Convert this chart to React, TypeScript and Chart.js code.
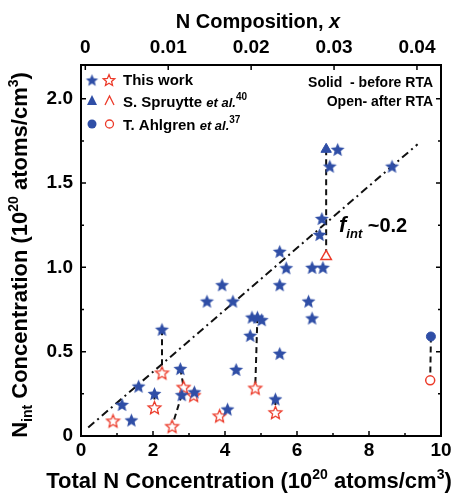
import React, { useEffect, useRef } from "react";
import { Chart, registerables } from "chart.js";
Chart.register(...registerables);

const FONT = '"Liberation Sans", Arial, Helvetica, sans-serif';
const BLUE = "#2f4ea6";
const RED = "#ec3b2a";

// This work, before RTA (solid stars)
const beforeX = [1.14, 1.4, 1.6, 2.04, 2.25, 2.76, 2.8, 3.15, 3.5, 3.92, 4.07, 4.22, 4.31, 4.7, 4.75, 4.9, 5.02, 5.4, 5.52, 5.52, 5.52, 5.7, 6.32, 6.42, 6.42, 6.63, 6.69, 6.72, 6.91, 7.13, 8.64];
const beforeY = [0.187, 0.095, 0.296, 0.252, 0.633, 0.4, 0.245, 0.262, 0.8, 0.897, 0.16, 0.8, 0.395, 0.597, 0.705, 0.705, 0.69, 0.22, 0.49, 0.897, 1.095, 0.998, 0.8, 0.7, 1.0, 1.195, 1.29, 1.0, 1.6, 1.7, 1.6];
// This work, after RTA (open stars)
const afterX = [0.89, 2.04, 2.25, 2.53, 2.85, 3.13, 3.85, 4.84, 5.4];
const afterY = [0.09, 0.169, 0.375, 0.058, 0.29, 0.242, 0.12, 0.285, 0.14];
// S. Spruytte et al.
const spruytteBeforeX = [6.81];
const spruytteBeforeY = [1.7];
const spruytteAfterX = [6.81];
const spruytteAfterY = [1.065];
// T. Ahlgren et al.
const ahlgrenBeforeX = [9.72];
const ahlgrenBeforeY = [0.59];
const ahlgrenAfterX = [9.7];
const ahlgrenAfterY = [0.33];
// dashed connectors: before -> after
const connFromX = [6.81, 9.72, 2.25, 2.76, 2.8, 2.04, 4.9, 5.4];
const connFromY = [1.7, 0.59, 0.633, 0.4, 0.245, 0.252, 0.705, 0.22];
const connToX = [6.81, 9.7, 2.25, 2.85, 2.53, 2.04, 4.84, 5.4];
const connToY = [1.065, 0.33, 0.375, 0.29, 0.058, 0.169, 0.285, 0.14];
// fit line f_int ~ 0.2
const fitX = [0.2, 9.35];
const fitY = [0.05, 1.73];
// ticks
const xTicks = [0, 2, 4, 6, 8, 10];
const xTickLabels = ["0", "2", "4", "6", "8", "10"];
const yTicks = [0, 0.5, 1, 1.5, 2];
const yTickLabels = ["0", "0.5", "1.0", "1.5", "2.0"];
const compTicks = [0, 0.01, 0.02, 0.03, 0.04];
const compTickLabels = ["0", "0.01", "0.02", "0.03", "0.04"];
const yMinorTicks = [0.25, 0.75, 1.25, 1.75];
const xMinorTicks = [1, 3, 5, 7, 9];

function makeStar(fill: string | null, stroke: string | null, R: number, lw: number) {
  const c = document.createElement("canvas");
  const size = Math.ceil(R * 2 + lw + 2);
  c.width = size;
  c.height = size;
  const g = c.getContext("2d")!;
  const cx = size / 2;
  const cy = size / 2 + R * 0.1;
  g.beginPath();
  for (let i = 0; i < 10; i++) {
    const r = i % 2 === 0 ? R : R * 0.45;
    const a = -Math.PI / 2 + (i * Math.PI) / 5;
    g.lineTo(cx + r * Math.cos(a), cy + r * Math.sin(a));
  }
  g.closePath();
  if (fill) {
    g.fillStyle = fill;
    g.fill();
  }
  if (stroke) {
    g.strokeStyle = stroke;
    g.lineWidth = lw;
    g.stroke();
  }
  return c;
}

type Run = { t: string; font: string; dy?: number };
function drawRuns(ctx: CanvasRenderingContext2D, runs: Run[], x: number, y: number, align: "left" | "center" | "right") {
  ctx.save();
  ctx.textBaseline = "alphabetic";
  ctx.textAlign = "left";
  let total = 0;
  for (const r of runs) {
    ctx.font = r.font;
    total += ctx.measureText(r.t).width;
  }
  let cx = align === "left" ? x : align === "center" ? x - total / 2 : x - total;
  for (const r of runs) {
    ctx.font = r.font;
    ctx.fillText(r.t, cx, y + (r.dy || 0));
    cx += ctx.measureText(r.t).width;
  }
  ctx.restore();
}

const pairs = (xs: number[], ys: number[]) => xs.map((x, i) => ({ x, y: ys[i] }));

export default function App() {
  const ref = useRef<HTMLCanvasElement>(null);
  useEffect(() => {
    const filledStar = makeStar(BLUE, null, 7.3, 0);
    const openStar = makeStar("#ffffff", RED, 6.7, 1.3);
    const legendFilledStar = makeStar(BLUE, null, 6.5, 0);
    const legendOpenStar = makeStar("#ffffff", RED, 6, 1.3);

    const B = (s: number, it = false) => `${it ? "italic " : ""}bold ${s}px ${FONT}`;

    const decor = {
      id: "decor",
      afterDraw(chart: any) {
        const ctx: CanvasRenderingContext2D = chart.ctx;
        const { left, right, top, bottom } = chart.chartArea;
        const sx = chart.scales.x;
        const sy = chart.scales.y;
        const st = chart.scales.xTop;
        ctx.save();
        ctx.strokeStyle = "#000";
        ctx.lineWidth = 1.5;
        ctx.beginPath();
        const yAll = [...yTicks.map((v) => [v, 5]), ...yMinorTicks.map((v) => [v, 3])];
        for (const [v, len] of yAll) {
          const p = sy.getPixelForValue(v);
          ctx.moveTo(left, p);
          ctx.lineTo(left + len, p);
          ctx.moveTo(right, p);
          ctx.lineTo(right - len, p);
        }
        const xAll = [...xTicks.map((v) => [v, 5]), ...xMinorTicks.map((v) => [v, 3])];
        for (const [v, len] of xAll) {
          const p = sx.getPixelForValue(v);
          ctx.moveTo(p, bottom);
          ctx.lineTo(p, bottom - len);
        }
        for (const v of compTicks) {
          const p = st.getPixelForValue(v);
          ctx.moveTo(p, top);
          ctx.lineTo(p, top + 5);
        }
        ctx.stroke();
        ctx.restore();

        ctx.fillStyle = "#000";
        // axis titles
        drawRuns(ctx, [
          { t: "Total N Concentration (10", font: B(22) },
          { t: "20", font: B(14), dy: -9 },
          { t: " atoms/cm", font: B(22) },
          { t: "3", font: B(14), dy: -9 },
          { t: ")", font: B(22) },
        ], 249, 488, "center");
        drawRuns(ctx, [
          { t: "N Composition, ", font: B(20) },
          { t: "x", font: B(20, true) },
        ], 258, 28, "center");
        ctx.save();
        ctx.translate(27, 255);
        ctx.rotate(-Math.PI / 2);
        drawRuns(ctx, [
          { t: "N", font: B(22) },
          { t: "int", font: B(14), dy: 5 },
          { t: " Concentration (10", font: B(22) },
          { t: "20", font: B(14), dy: -9 },
          { t: " atoms/cm", font: B(22) },
          { t: "3", font: B(14), dy: -9 },
          { t: ")", font: B(22) },
        ], 0, 0, "center");
        ctx.restore();

        // f_int annotation
        drawRuns(ctx, [
          { t: "f", font: B(22, true) },
          { t: "int", font: B(13, true), dy: 6 },
          { t: " ~0.2", font: B(20) },
        ], 339, 232, "left");

        // solid/open note
        drawRuns(ctx, [{ t: "Solid  - before RTA", font: B(14) }], 433, 87, "right");
        drawRuns(ctx, [{ t: "Open- after RTA", font: B(14) }], 433, 106, "right");

        // legend
        ctx.drawImage(legendFilledStar, 92 - legendFilledStar.width / 2, 80 - legendFilledStar.height / 2);
        ctx.drawImage(legendOpenStar, 109 - legendOpenStar.width / 2, 80 - legendOpenStar.height / 2);
        drawRuns(ctx, [{ t: "This work", font: B(15) }], 123, 85, "left");

        ctx.save();
        ctx.fillStyle = BLUE;
        ctx.beginPath();
        ctx.moveTo(92, 95);
        ctx.lineTo(97, 105);
        ctx.lineTo(87, 105);
        ctx.closePath();
        ctx.fill();
        ctx.strokeStyle = RED;
        ctx.lineWidth = 1.3;
        ctx.beginPath();
        ctx.moveTo(105, 105);
        ctx.lineTo(109.5, 96);
        ctx.lineTo(114, 105);
        ctx.stroke();
        ctx.fillStyle = BLUE;
        ctx.beginPath();
        ctx.arc(92, 124, 4.5, 0, Math.PI * 2);
        ctx.fill();
        ctx.strokeStyle = RED;
        ctx.beginPath();
        ctx.arc(109.5, 124, 4, 0, Math.PI * 2);
        ctx.stroke();
        ctx.restore();
        ctx.fillStyle = "#000";
        drawRuns(ctx, [
          { t: "S. Spruytte ", font: B(15) },
          { t: "et al.", font: B(13, true) },
          { t: "40", font: B(10), dy: -7 },
        ], 123, 107, "left");
        drawRuns(ctx, [
          { t: "T. Ahlgren ", font: B(15) },
          { t: "et al.", font: B(13, true) },
          { t: "37", font: B(10), dy: -7 },
        ], 123, 130, "left");
      },
    };

    const tickFont = { family: FONT, size: 19, weight: "bold" as const };
    const axisCommon = {
      grid: { display: false, drawTicks: false },
      border: { display: true, color: "#000", width: 2 },
    };

    const connectorSets = connFromX.map((_, i) => ({
      data: [
        { x: connFromX[i], y: connFromY[i] },
        { x: connToX[i], y: connToY[i] },
      ],
      showLine: true,
      borderColor: "#111",
      borderWidth: 2,
      borderDash: [6, 4],
      pointRadius: 0,
      order: 10,
      xAxisID: "x",
      yAxisID: "y",
    }));

    const chart = new Chart(ref.current!, {
      type: "scatter",
      data: {
        datasets: [
          {
            data: pairs(fitX, fitY),
            showLine: true,
            borderColor: "#111",
            borderWidth: 2,
            borderDash: [8, 4, 2, 4],
            pointRadius: 0,
            order: 11,
            xAxisID: "x",
            yAxisID: "y",
          },
          ...connectorSets,
          {
            data: pairs(afterX, afterY),
            pointStyle: openStar,
            order: 2,
            xAxisID: "x",
            yAxisID: "y",
          },
          {
            data: pairs(beforeX, beforeY),
            pointStyle: filledStar,
            order: 1,
            xAxisID: "x",
            yAxisID: "y",
          },
          {
            data: pairs(spruytteBeforeX, spruytteBeforeY),
            pointStyle: "triangle",
            pointRadius: 6,
            backgroundColor: BLUE,
            borderColor: BLUE,
            borderWidth: 1,
            order: 1,
            xAxisID: "x",
            yAxisID: "y",
          },
          {
            data: pairs(spruytteAfterX, spruytteAfterY),
            pointStyle: "triangle",
            pointRadius: 6,
            backgroundColor: "#ffffff",
            borderColor: RED,
            borderWidth: 1.5,
            order: 1,
            xAxisID: "x",
            yAxisID: "y",
          },
          {
            data: pairs(ahlgrenBeforeX, ahlgrenBeforeY),
            pointStyle: "circle",
            pointRadius: 4.5,
            backgroundColor: BLUE,
            borderColor: BLUE,
            borderWidth: 1,
            order: 1,
            xAxisID: "x",
            yAxisID: "y",
          },
          {
            data: pairs(ahlgrenAfterX, ahlgrenAfterY),
            pointStyle: "circle",
            pointRadius: 4.5,
            backgroundColor: "#ffffff",
            borderColor: RED,
            borderWidth: 1.5,
            order: 1,
            xAxisID: "x",
            yAxisID: "y",
          },
        ],
      },
      options: {
        responsive: false,
        animation: false,
        layout: { padding: 0 },
        plugins: { legend: { display: false }, tooltip: { enabled: false } },
        scales: {
          x: {
            type: "linear",
            position: "bottom",
            min: 0,
            max: 10,
            ...axisCommon,
            afterBuildTicks: (s: any) => {
              s.ticks = xTicks.map((v) => ({ value: v }));
            },
            afterFit: (s: any) => {
              s.height = 57;
            },
            ticks: {
              font: tickFont,
              color: "#000",
              padding: 3,
              maxRotation: 0,
              autoSkip: false,
              callback: (_v: any, i: number) => xTickLabels[i],
            },
          },
          xTop: {
            type: "linear",
            position: "top",
            min: -0.00052,
            max: 0.0429,
            ...axisCommon,
            afterBuildTicks: (s: any) => {
              s.ticks = compTicks.map((v) => ({ value: v }));
            },
            afterFit: (s: any) => {
              s.height = 65;
            },
            ticks: {
              font: tickFont,
              color: "#000",
              padding: 6,
              maxRotation: 0,
              autoSkip: false,
              callback: (_v: any, i: number) => compTickLabels[i],
            },
          },
          y: {
            type: "linear",
            position: "left",
            min: 0,
            max: 2.2,
            ...axisCommon,
            afterBuildTicks: (s: any) => {
              s.ticks = yTicks.map((v) => ({ value: v }));
            },
            afterFit: (s: any) => {
              s.width = 81;
            },
            ticks: {
              font: tickFont,
              color: "#000",
              padding: 8,
              autoSkip: false,
              callback: (_v: any, i: number) => yTickLabels[i],
            },
          },
          yRight: {
            type: "linear",
            position: "right",
            min: 0,
            max: 2.2,
            ...axisCommon,
            ticks: { display: false },
            afterFit: (s: any) => {
              s.width = 17;
            },
          },
        },
      } as any,
      plugins: [decor],
    });
    return () => chart.destroy();
  }, []);

  return (
    <div style={{ position: "fixed", left: 0, top: 0, width: 458, height: 493, background: "#fff" }}>
      <canvas ref={ref} width={458} height={493} style={{ display: "block", width: 458, height: 493 }} />
    </div>
  );
}
